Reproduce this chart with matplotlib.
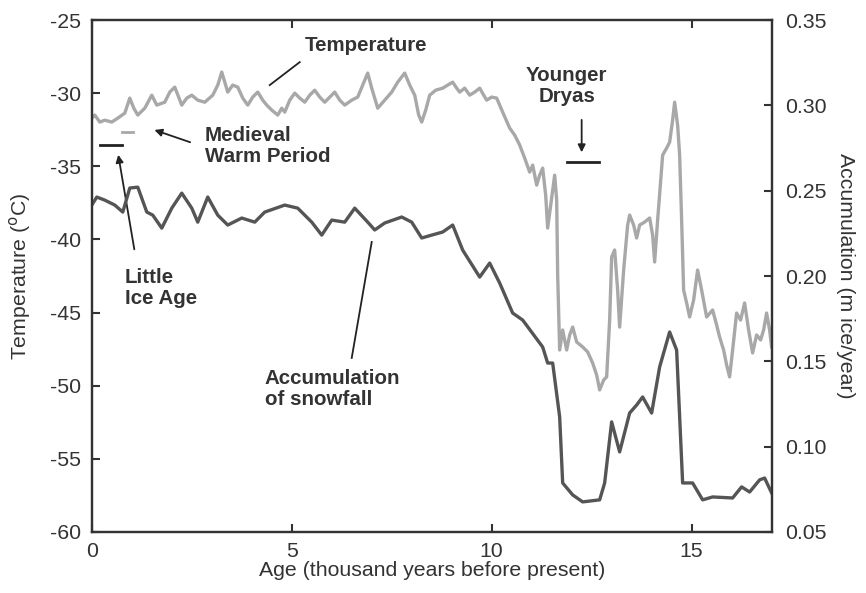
import matplotlib
matplotlib.use("Agg")
import matplotlib.pyplot as plt

plt.rcParams['font.family'] = ['Liberation Sans', 'DejaVu Sans']
plt.rcParams['axes.unicode_minus'] = False

# temperature (light grey), left axis
temp_age = [0, 0.075, 0.2, 0.325, 0.5, 0.65, 0.825, 0.95, 1.05, 1.15, 1.325, 1.5, 1.625, 1.825, 1.95,
            2.075, 2.25, 2.375, 2.5, 2.65, 2.825, 3.025, 3.15, 3.25, 3.325, 3.4, 3.525, 3.65, 3.775, 3.9,
            4.025, 4.15, 4.275, 4.375, 4.5, 4.65, 4.75, 4.825, 4.95, 5.075, 5.2, 5.325, 5.45, 5.575, 5.7,
            5.825, 5.95, 6.075, 6.2, 6.325, 6.5, 6.65, 6.775, 6.9, 7.0, 7.15, 7.325, 7.5, 7.65, 7.825,
            7.95, 8.075, 8.175, 8.25, 8.35, 8.45, 8.6, 8.775, 8.9, 9.025, 9.125, 9.2, 9.325, 9.45, 9.575,
            9.7, 9.8, 9.875, 10.0, 10.125, 10.275, 10.45, 10.575, 10.7, 10.825, 10.95, 11.025, 11.125, 11.2,
            11.275, 11.35, 11.4, 11.475, 11.575, 11.625, 11.65, 11.7, 11.775, 11.875, 11.95, 12.025, 12.125,
            12.275, 12.4, 12.525, 12.625, 12.7, 12.8, 12.875, 12.95, 13.0, 13.075, 13.15, 13.2, 13.3, 13.4,
            13.45, 13.55, 13.625, 13.7, 13.825, 13.95, 14.025, 14.075, 14.15, 14.275, 14.375, 14.45, 14.525,
            14.575, 14.65, 14.7, 14.75, 14.8, 14.875, 14.95, 15.05, 15.15, 15.25, 15.375, 15.525, 15.625,
            15.7, 15.8, 15.875, 15.95, 16.025, 16.125, 16.225, 16.325, 16.425, 16.525, 16.625, 16.725, 16.8,
            16.875, 16.95, 17.0]
temp = [-31.70, -31.49, -31.97, -31.84, -31.97, -31.70, -31.36, -30.33, -31.02, -31.49, -31.02, -30.13,
        -30.81, -30.61, -29.92, -29.58, -30.81, -30.33, -30.13, -30.47, -30.61, -30.13, -29.44, -28.55,
        -29.24, -29.92, -29.44, -29.58, -30.33, -30.81, -30.26, -29.92, -30.47, -30.81, -31.15, -31.49,
        -31.02, -31.29, -30.47, -29.99, -30.33, -30.61, -30.13, -29.79, -30.26, -30.61, -30.26, -29.92,
        -30.47, -30.81, -30.47, -30.26, -29.44, -28.62, -29.65, -31.02, -30.47, -29.92, -29.24, -28.62,
        -29.44, -30.13, -31.49, -31.97, -31.15, -30.13, -29.79, -29.65, -29.44, -29.24, -29.65, -29.92,
        -29.65, -30.13, -29.92, -29.65, -30.13, -30.47, -30.26, -30.33, -31.29, -32.38, -32.86, -33.54,
        -34.43, -35.39, -34.91, -36.28, -35.60, -35.12, -36.96, -39.22, -37.65, -35.60, -37.30, -42.43,
        -47.56, -46.19, -47.56, -46.53, -45.99, -47.01, -47.35, -47.69, -48.45, -49.27, -50.29, -49.61,
        -49.40, -45.51, -41.20, -40.72, -43.46, -45.99, -42.09, -39.01, -38.33, -39.01, -39.90, -39.01,
        -38.81, -38.53, -39.70, -41.54, -38.67, -34.23, -33.75, -33.34, -31.84, -30.61, -32.18, -34.23,
        -38.67, -43.46, -44.34, -45.30, -44.14, -42.09, -43.46, -45.30, -44.82, -45.85, -46.67, -47.56,
        -48.58, -49.40, -47.56, -45.03, -45.51, -44.34, -46.19, -47.76, -46.53, -46.87, -46.19, -45.03,
        -46.19, -47.35]

# accumulation of snowfall (dark grey), right axis
acc_age = [0.0, 0.125, 0.325, 0.575, 0.775, 0.95, 1.15, 1.375, 1.525, 1.75, 2.0, 2.25, 2.5, 2.65, 2.9,
           3.15, 3.4, 3.75, 4.075, 4.325, 4.825, 5.15, 5.5, 5.75, 6.0, 6.325, 6.575, 6.9, 7.075, 7.325,
           7.75, 8.0, 8.25, 8.5, 8.775, 9.025, 9.275, 9.7, 9.95, 10.2, 10.525, 10.775, 11.275, 11.4,
           11.525, 11.7, 11.775, 12.025, 12.275, 12.7, 12.825, 13.0, 13.2, 13.45, 13.625, 13.775, 14.0,
           14.2, 14.45, 14.625, 14.775, 15.025, 15.275, 15.525, 16.025, 16.25, 16.45, 16.7, 16.825, 17.0]
acc = [0.2416, 0.2463, 0.2445, 0.2416, 0.2375, 0.2516, 0.2521, 0.2375, 0.2357, 0.2281, 0.2398, 0.2486,
       0.2398, 0.2316, 0.2463, 0.2357, 0.2299, 0.2340, 0.2316, 0.2375, 0.2416, 0.2398, 0.2316, 0.2240,
       0.2328, 0.2316, 0.2398, 0.2316, 0.2270, 0.2311, 0.2346, 0.2316, 0.2223, 0.2240, 0.2258, 0.2299,
       0.2152, 0.1994, 0.2076, 0.1959, 0.1783, 0.1742, 0.1584, 0.1490, 0.1490, 0.1174, 0.0787, 0.0717,
       0.0676, 0.0688, 0.0787, 0.1145, 0.0969, 0.1197, 0.1244, 0.1291, 0.1197, 0.1467, 0.1672, 0.1566,
       0.0787, 0.0787, 0.0688, 0.0705, 0.0699, 0.0764, 0.0734, 0.0805, 0.0816, 0.0729]

light = '#a8a8a8'
dark = '#555555'
txt = '#333333'

fig = plt.figure(figsize=(8.66, 5.93), dpi=100)
ax = fig.add_axes([0.106, 0.103, 0.785, 0.863])
ax2 = ax.twinx()

ax.plot(temp_age, temp, color=light, lw=2.4, solid_joinstyle='round')
ax2.plot(acc_age, acc, color=dark, lw=2.4, solid_joinstyle='round')

ax.set_xlim(0, 17)
ax.set_ylim(-60, -25)
ax2.set_ylim(0.05, 0.35)
ax.set_xticks([0, 5, 10, 15])
ax.set_yticks(range(-60, -24, 5))
ax2.set_yticks([0.05, 0.10, 0.15, 0.20, 0.25, 0.30, 0.35])
ax2.set_yticklabels(['0.05', '0.10', '0.15', '0.20', '0.25', '0.30', '0.35'])

ts = 15.3
ax.tick_params(axis='x', direction='in', top=True, length=6, width=1.5, colors=txt, labelsize=ts, pad=7)
ax.tick_params(axis='y', direction='in', length=6, width=1.5, colors=txt, labelsize=ts, pad=8)
ax2.tick_params(axis='y', direction='in', length=6, width=1.5, colors=txt, labelsize=ts, pad=10)
for a in (ax, ax2):
    for s in a.spines.values():
        s.set_linewidth(1.6)
        s.set_color(txt)

ax.set_xlabel('Age (thousand years before present)', fontsize=ts, color=txt, labelpad=0)
ax.set_ylabel('Temperature ($^{\\mathrm{o}}$C)', fontsize=ts, color=txt, labelpad=12)
ax2.set_ylabel('Accumulation (m ice/year)', fontsize=ts, color=txt, rotation=270, labelpad=20)

# annotations
fs = 14.8
ax.text(5.325, -26.71, 'Temperature', fontsize=fs, fontweight='bold', color=txt, ha='left', va='center')
ax.plot([4.45, 5.2], [-29.44, -27.87], color='#222222', lw=1.3)

ax.text(2.825, -33.61, 'Medieval\nWarm Period', fontsize=fs, fontweight='bold', color=txt,
        ha='left', va='center', linespacing=1.15)
ax.annotate('', xy=(1.5, -32.45), xytext=(2.525, -33.41),
            arrowprops=dict(arrowstyle='-|>', color='#222222', lw=1.3, mutation_scale=11))
ax.plot([0.75, 1.03], [-32.65, -32.65], color=light, lw=2)

ax.plot([0.2, 0.75], [-33.55, -33.55], color='#222222', lw=2)
ax.annotate('', xy=(0.65, -34.02), xytext=(1.075, -40.86),
            arrowprops=dict(arrowstyle='-|>', color='#222222', lw=1.3, mutation_scale=11))
ax.text(0.825, -43.32, 'Little\nIce Age', fontsize=fs, fontweight='bold', color=txt,
        ha='left', va='center', linespacing=1.15)

ax.text(4.325, -50.22, 'Accumulation\nof snowfall', fontsize=fs, fontweight='bold', color=txt,
        ha='left', va='center', linespacing=1.15)
ax.plot([6.5, 7.0], [-48.10, -40.17], color='#222222', lw=1.3)

ax.text(11.875, -29.51, 'Younger\nDryas', fontsize=fs, fontweight='bold', color=txt,
        ha='center', va='center', linespacing=1.15)
ax.annotate('', xy=(12.25, -34.23), xytext=(12.25, -31.63),
            arrowprops=dict(arrowstyle='-|>', color='#222222', lw=1.3, mutation_scale=11))
ax.plot([11.875, 12.675], [-34.7, -34.7], color='#222222', lw=2)

fig.savefig('out.png', dpi=100)
